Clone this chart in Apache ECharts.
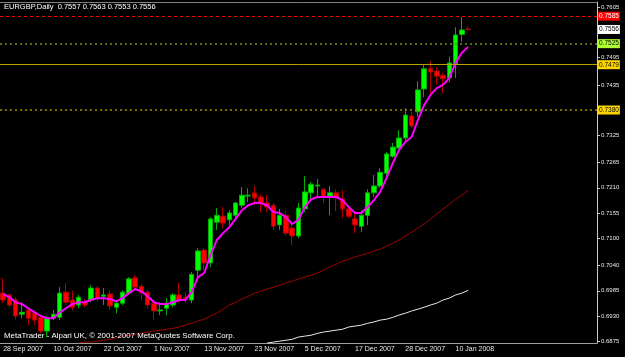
<!DOCTYPE html>
<html>
<head>
<meta charset="utf-8">
<script src="https://cdn.jsdelivr.net/npm/echarts@6/dist/echarts.min.js"></script>
<style>
  html, body { margin:0; padding:0; background:#000; }
  #chart { width:625px; height:357px; }
</style>
</head>
<body>
<div id="chart"></div>
<script>
// EURGBP daily bars, 28 Sep 2007 .. 14 Jan 2008
const dates = [
  '28 Sep 2007','1 Oct 2007','2 Oct 2007','3 Oct 2007','4 Oct 2007','5 Oct 2007','8 Oct 2007','9 Oct 2007',
  '10 Oct 2007','11 Oct 2007','12 Oct 2007','15 Oct 2007','16 Oct 2007','17 Oct 2007','18 Oct 2007','19 Oct 2007',
  '22 Oct 2007','23 Oct 2007','24 Oct 2007','25 Oct 2007','26 Oct 2007','29 Oct 2007','30 Oct 2007','31 Oct 2007',
  '1 Nov 2007','2 Nov 2007','5 Nov 2007','6 Nov 2007','7 Nov 2007','8 Nov 2007','9 Nov 2007','12 Nov 2007',
  '13 Nov 2007','14 Nov 2007','15 Nov 2007','16 Nov 2007','19 Nov 2007','20 Nov 2007','21 Nov 2007','22 Nov 2007',
  '23 Nov 2007','26 Nov 2007','27 Nov 2007','28 Nov 2007','29 Nov 2007','30 Nov 2007','3 Dec 2007','4 Dec 2007',
  '5 Dec 2007','6 Dec 2007','7 Dec 2007','10 Dec 2007','11 Dec 2007','12 Dec 2007','13 Dec 2007','14 Dec 2007',
  '17 Dec 2007','18 Dec 2007','19 Dec 2007','20 Dec 2007','21 Dec 2007','24 Dec 2007','26 Dec 2007','27 Dec 2007',
  '28 Dec 2007','31 Dec 2007','2 Jan 2008','3 Jan 2008','4 Jan 2008','7 Jan 2008','8 Jan 2008','9 Jan 2008',
  '10 Jan 2008','11 Jan 2008','14 Jan 2008'
];
const opens = [
  0.6980,0.6976,0.6965,0.6934,0.6943,0.6936,0.6927,0.6897,0.6925,0.6927,
  0.6982,0.6965,0.6954,0.6960,0.6965,0.6991,0.6973,0.6978,0.6949,0.6958,
  0.6980,0.7013,0.6995,0.6982,0.6958,0.6941,0.6947,0.6954,0.6976,0.6971,
  0.6965,0.7030,0.7074,0.7046,0.7135,0.7148,0.7140,0.7150,0.7172,0.7192,
  0.7199,0.7190,0.7177,0.7172,0.7129,0.7150,0.7122,0.7105,0.7164,0.7199,
  0.7214,0.7207,0.7192,0.7199,0.7185,0.7164,0.7142,0.7126,0.7150,0.7199,
  0.7214,0.7242,0.7279,0.7297,0.7319,0.7367,0.7376,0.7426,0.7470,0.7465,
  0.7456,0.7450,0.7481,0.7545,0.7557
];
const closes = [
  0.6965,0.6954,0.6930,0.6938,0.6925,0.6921,0.6897,0.6925,0.6934,0.6980,
  0.6960,0.6949,0.6971,0.6954,0.6991,0.6969,0.6976,0.6952,0.6958,0.6982,
  0.7011,0.6993,0.6980,0.6954,0.6941,0.6943,0.6958,0.6976,0.6965,0.6967,
  0.7021,0.7072,0.7046,0.7142,0.7150,0.7133,0.7155,0.7177,0.7194,0.7194,
  0.7188,0.7177,0.7168,0.7126,0.7150,0.7111,0.7105,0.7166,0.7201,0.7218,
  0.7216,0.7190,0.7199,0.7188,0.7164,0.7148,0.7129,0.7150,0.7199,0.7214,
  0.7244,0.7284,0.7299,0.7319,0.7369,0.7345,0.7424,0.7470,0.7463,0.7454,
  0.7448,0.7483,0.7544,0.7555,0.7556
];
const lows = [
  0.6958,0.6949,0.6923,0.6925,0.6910,0.6910,0.6892,0.6884,0.6921,0.6921,
  0.6954,0.6943,0.6947,0.6949,0.6960,0.6962,0.6954,0.6943,0.6936,0.6954,
  0.6976,0.6986,0.6965,0.6947,0.6921,0.6932,0.6932,0.6949,0.6960,0.6958,
  0.6958,0.7015,0.7030,0.7037,0.7118,0.7122,0.7129,0.7140,0.7166,0.7179,
  0.7172,0.7157,0.7157,0.7118,0.7118,0.7105,0.7085,0.7100,0.7157,0.7183,
  0.7192,0.7177,0.7150,0.7159,0.7144,0.7144,0.7111,0.7113,0.7129,0.7190,
  0.7209,0.7234,0.7275,0.7288,0.7310,0.7341,0.7365,0.7408,0.7417,0.7435,
  0.7417,0.7441,0.7450,0.7529,0.7553
];
const highs = [
  0.7013,0.6980,0.6971,0.6960,0.6947,0.6941,0.6932,0.6930,0.6943,0.6993,
  0.7002,0.6986,0.6976,0.6967,0.6997,0.6995,0.6991,0.6986,0.6965,0.6986,
  0.7015,0.7019,0.7000,0.6986,0.6965,0.6960,0.6969,0.6980,0.7002,0.6982,
  0.7026,0.7078,0.7078,0.7146,0.7166,0.7168,0.7161,0.7179,0.7212,0.7209,
  0.7214,0.7196,0.7194,0.7177,0.7164,0.7161,0.7133,0.7177,0.7236,0.7223,
  0.7229,0.7209,0.7214,0.7207,0.7205,0.7170,0.7155,0.7161,0.7207,0.7238,
  0.7253,0.7288,0.7308,0.7336,0.7384,0.7376,0.7443,0.7478,0.7487,0.7474,
  0.7461,0.7496,0.7561,0.7583,0.7563
];
// moving averages
const maFast = [
  0.6978,0.6971,0.6960,0.6956,0.6947,0.6938,0.6930,0.6925,0.6925,0.6938,
  0.6947,0.6956,0.6960,0.6960,0.6965,0.6969,0.6969,0.6967,0.6962,0.6969,
  0.6980,0.6989,0.6984,0.6973,0.6960,0.6956,0.6956,0.6960,0.6965,0.6965,
  0.6982,0.7015,0.7024,0.7063,0.7096,0.7111,0.7124,0.7142,0.7161,0.7172,
  0.7177,0.7177,0.7172,0.7157,0.7155,0.7146,0.7131,0.7140,0.7168,0.7185,
  0.7190,0.7190,0.7190,0.7190,0.7183,0.7168,0.7155,0.7155,0.7168,0.7183,
  0.7201,0.7231,0.7264,0.7293,0.7310,0.7321,0.7358,0.7391,0.7413,0.7428,
  0.7435,0.7450,0.7483,0.7505,0.7518
];
const maMid = [
  null,null,null,null,null,null,null,null,null,null,null,null,
  0.6871,0.6873,0.6873,0.6875,0.6877,0.6879,0.6882,0.6886,
  0.6888,0.6890,0.6892,0.6895,0.6897,0.6899,0.6901,0.6903,0.6906,0.6910,
  0.6914,0.6919,0.6923,0.6930,0.6936,0.6945,0.6954,0.6960,0.6967,0.6973,
  0.6980,0.6984,0.6989,0.6993,0.6997,0.7002,0.7006,0.7011,0.7015,0.7019,
  0.7024,0.7030,0.7037,0.7043,0.7050,0.7054,0.7059,0.7063,0.7067,0.7072,
  0.7076,0.7083,0.7089,0.7096,0.7105,0.7113,0.7122,0.7131,0.7142,0.7153,
  0.7164,0.7174,0.7185,0.7194,0.7205
];
const maSlow = [
  null,null,null,null,null,null,null,null,null,null,
  null,null,null,null,null,null,null,null,null,null,
  null,null,null,null,null,null,null,null,null,null,
  null,null,null,null,null,null,null,null,null,null,
  null,null,0.6871,0.6873,0.6875,0.6877,0.6879,0.6884,0.6886,0.6888,
  0.6892,0.6895,0.6897,0.6899,0.6901,0.6906,0.6908,0.6910,0.6914,0.6917,
  0.6921,0.6923,0.6927,0.6932,0.6936,0.6941,0.6945,0.6949,0.6954,0.6958,
  0.6965,0.6969,0.6976,0.6980,0.6986
];
const priceTicks = [0.6875,0.6930,0.6985,0.7040,0.7100,0.7155,0.7210,0.7265,0.7325,0.7380,0.7435,0.7495,0.7605];
const emptyBars = 20;

const cats = dates.concat(new Array(emptyBars).fill(''));
const ohlc = opens.map((o, i) => [o, closes[i], lows[i], highs[i]]);
const last = opens.length - 1;
const showDate = (idx) => idx % 8 === 0 && idx < dates.length;

const tag = (v, bg, fg) => ({
  show: true, position: 'end', distance: 1, formatter: v.toFixed(4),
  backgroundColor: bg, color: fg, fontSize: 6.5, fontFamily: 'Liberation Sans',
  padding: [1, 1, 1, 1]
});

const chart = echarts.init(document.getElementById('chart'));
chart.setOption({
  backgroundColor: '#000',
  animation: false,
  title: [
    {
      text: 'EURGBP,Daily  ' + [opens[last], highs[last], lows[last], closes[last]].map(v => v.toFixed(4)).join(' '),
      left: 4, top: 3, padding: 0,
      textStyle: {color: '#fff', fontSize: 7.5, fontWeight: 'normal', fontFamily: 'Liberation Sans'}
    },
    {
      text: 'MetaTrader - Alpari UK, \u00a9 2001-2007 MetaQuotes Software Corp.',
      left: 4, top: 332, padding: 0,
      textStyle: {color: '#fff', fontSize: 7.9, fontWeight: 'normal', fontFamily: 'Liberation Sans'}
    }
  ],
  grid: {left: 0, right: 28, top: 2, bottom: 14},
  xAxis: [
    {
      type: 'category', data: cats, boundaryGap: true,
      axisLine: {lineStyle: {color: '#a0a0a0'}},
      axisTick: {interval: showDate, alignWithLabel: true, length: 3, lineStyle: {color: '#a0a0a0'}},
      axisLabel: {
        interval: showDate, align: 'left', margin: 3, color: '#e8e8e8',
        fontSize: 7, fontFamily: 'Liberation Sans'
      },
      splitLine: {show: false}
    },
    {
      type: 'category', data: cats, position: 'top', boundaryGap: true,
      axisLine: {lineStyle: {color: '#808080'}},
      axisTick: {show: false}, axisLabel: {show: false}
    }
  ],
  yAxis: {
    type: 'value', position: 'right', min: 0.6871, max: 0.7616, scale: true,
    splitLine: {show: false},
    axisLine: {show: true, lineStyle: {color: '#c8c8c8'}},
    axisTick: {show: true, customValues: priceTicks, length: 3, lineStyle: {color: '#c8c8c8'}},
    axisLabel: {
      customValues: priceTicks, formatter: v => v.toFixed(4), margin: 4,
      color: '#e8e8e8', fontSize: 6, fontFamily: 'Liberation Sans'
    }
  },
  series: [
    {
      type: 'candlestick', data: ohlc, barWidth: 5,
      itemStyle: {
        color: '#00ff00', color0: '#ff0000',
        borderColor: '#00b000', borderColor0: '#b00000', borderWidth: 1
      },
      markLine: {
        silent: true, symbol: 'none', animation: false, precision: 4,
        data: [
          {yAxis: 0.7585, lineStyle: {color: '#ff0000', type: [3, 3], width: 1}, label: tag(0.7585, '#ff0000', '#fff')},
          {yAxis: 0.7556, lineStyle: {color: 'rgba(0,0,0,0)', width: 0}, label: tag(0.7556, '#ffffff', '#000')},
          {yAxis: 0.7525, lineStyle: {color: '#6b8e23', type: [2, 3], width: 1.5}, label: tag(0.7525, '#adff2f', '#000')},
          {yAxis: 0.7479, lineStyle: {color: '#b8a000', type: 'solid', width: 1}, label: tag(0.7479, '#ffd700', '#000')},
          {yAxis: 0.7380, lineStyle: {color: '#a08c00', type: [2, 3], width: 1.5}, label: tag(0.7380, '#ffd700', '#000')}
        ]
      }
    },
    {type: 'line', data: maFast, showSymbol: false, lineStyle: {color: '#ff00ff', width: 2}},
    {type: 'line', data: maMid, showSymbol: false, lineStyle: {color: '#a00000', width: 1}},
    {type: 'line', data: maSlow, showSymbol: false, lineStyle: {color: '#e8e8e8', width: 1}}
  ]
});
</script>
</body>
</html>
